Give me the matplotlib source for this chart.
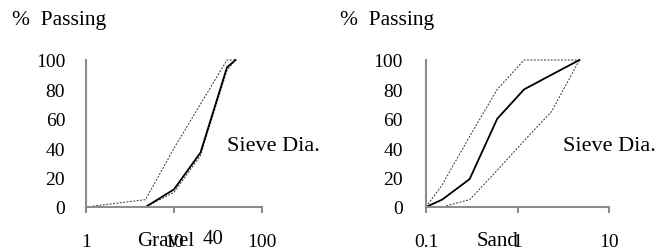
import matplotlib
matplotlib.use("Agg")
import matplotlib.pyplot as plt

plt.rcParams['font.family'] = ['Liberation Serif', 'DejaVu Serif']

# Gravel panel data
gravel_sizes = [1, 4.75, 10, 20, 40, 50]
gravel_mid = [0, 0, 12, 37, 95, 100]
gravel_upper = [0, 5, 40, 70, 100, 100]
gravel_lower = [0, 0, 10, 35, 93, 100]

# Sand panel data
sand_sizes = [0.1, 0.15, 0.3, 0.6, 1.18, 2.36, 4.75]
sand_mid = [0, 5, 19, 60, 80, 90, 100]
sand_upper = [0, 15, 48, 80, 100, 100, 100]
sand_lower = [0, 0, 5, 25, 45, 65, 100]

yticks = [0, 20, 40, 60, 80, 100]
gravel_xticks = [1, 10, 100]
gravel_xlabels = ["1", "10", "100"]
sand_xticks = [0.1, 1, 10]
sand_xlabels = ["0.1", "1", "10"]

W, H = 672, 253
fig = plt.figure(figsize=(W / 100, H / 100), dpi=100)

def px_axes(x0, x1, y0, y1):
    return fig.add_axes([x0 / W, 1 - y1 / H, (x1 - x0) / W, (y1 - y0) / H])

spine_col = '#8c8c8c'

def style(ax, xt, xl, xlim, ypad):
    ax.set_xscale('log')
    ax.set_xlim(*xlim)
    ax.set_ylim(0, 100)
    for s in ['top', 'right']:
        ax.spines[s].set_visible(False)
    for s in ['left', 'bottom']:
        ax.spines[s].set_color(spine_col)
        ax.spines[s].set_linewidth(1.5)
    ax.set_xticks(xt)
    ax.set_xticklabels(xl)
    ax.xaxis.set_minor_locator(matplotlib.ticker.NullLocator())
    ax.set_yticks(yticks)
    ax.tick_params(axis='x', direction='out', length=4, width=1.5, color=spine_col,
                   pad=15, labelsize=14)
    ax.tick_params(axis='y', length=0, pad=ypad, labelsize=14)
    ax.patch.set_alpha(0)

dash = (0, (2, 1.5))

ax1 = px_axes(86, 262, 61, 208)
ax1.plot(gravel_sizes, gravel_upper, color='#333333', lw=0.7, ls=dash, clip_on=False)
ax1.plot(gravel_sizes, gravel_lower, color='#333333', lw=0.7, ls=dash, clip_on=False)
ax1.plot(gravel_sizes, gravel_mid, color='black', lw=1.3, clip_on=False)
style(ax1, gravel_xticks, gravel_xlabels, (1, 100), 15)

ax2 = px_axes(426, 609, 61, 208)
ax2.plot(sand_sizes, sand_upper, color='#333333', lw=0.7, ls=dash, clip_on=False)
ax2.plot(sand_sizes, sand_lower, color='#333333', lw=0.7, ls=dash, clip_on=False)
ax2.plot(sand_sizes, sand_mid, color='black', lw=1.3, clip_on=False)
style(ax2, sand_xticks, sand_xlabels, (0.1, 10), 16.5)

def ftext(x, y, s, size=11, ha='left'):
    fig.text(x / W, 1 - y / H, s, fontsize=size, ha=ha, va='center')

ftext(12, 20, "%  Passing", size=15.5)
ftext(340, 20, "%  Passing", size=15.5)
ftext(227, 147, "Sieve Dia.", size=16)
ftext(563, 147, "Sieve Dia.", size=16)
ftext(137, 241, "Gravel", size=15)
ftext(203, 240, "40", size=15)
ftext(477, 241, "Sand", size=15)

fig.savefig("out.png", dpi=100)
